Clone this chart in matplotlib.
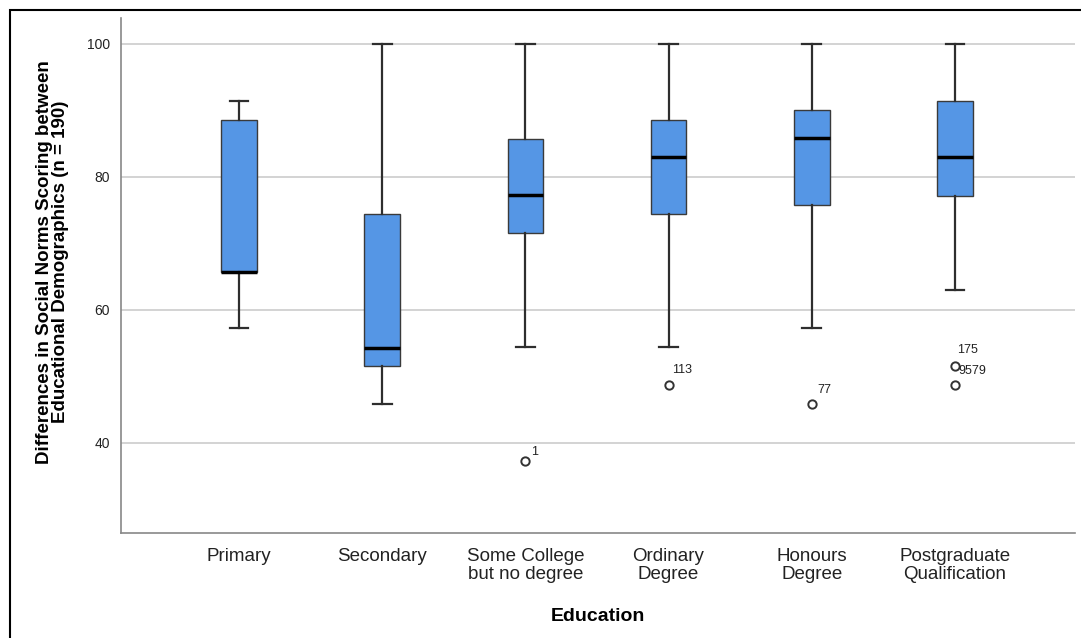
import matplotlib
matplotlib.use("Agg")
import matplotlib.pyplot as plt
from matplotlib.patches import Rectangle

plt.rcParams['font.family'] = ['Liberation Sans', 'DejaVu Sans']

# values
categories = ["Primary", "Secondary", "Some College\nbut no degree", "Ordinary\nDegree",
              "Honours\nDegree", "Postgraduate\nQualification"]
whis_lo = [57.3, 45.9, 54.4, 54.4, 57.3, 63.0]
q1 = [65.7, 51.6, 71.6, 74.4, 75.8, 77.1]
med = [65.7, 54.3, 77.3, 83.0, 85.9, 83.0]
q3 = [88.6, 74.4, 85.7, 88.6, 90.1, 91.4]
whis_hi = [91.4, 100.0, 100.0, 100.0, 100.0, 100.0]
fliers = [[], [], [37.3], [48.7], [45.9], [51.6, 48.7]]
flier_labels = [[], [], ["1"], ["113"], ["77"], ["175", "9579"]]
label_offsets = [[], [], [(6, 3)], [(4, 9)], [(6, 8)], [(2, 10), (4, 8)]]

fig = plt.figure(figsize=(10.81, 6.38), dpi=100)
ax = fig.add_axes([0.112, 0.165, 0.8825, 0.807])

stats = []
for i, c in enumerate(categories):
    stats.append(dict(label=c, whislo=whis_lo[i], q1=q1[i], med=med[i],
                      q3=q3[i], whishi=whis_hi[i], fliers=fliers[i]))

ax.bxp(stats, positions=range(len(categories)), widths=0.25, patch_artist=True,
       showfliers=True,
       boxprops=dict(facecolor='#5596e5', edgecolor='#3a3a3a', linewidth=1.0),
       medianprops=dict(color='black', linewidth=2.5),
       whiskerprops=dict(color='#2e2e2e', linewidth=1.6),
       capprops=dict(color='#2e2e2e', linewidth=1.6),
       capwidths=0.13,
       flierprops=dict(marker='o', markerfacecolor='none', markeredgecolor='#333333',
                       markersize=6, markeredgewidth=1.4))

for i in range(len(categories)):
    for v, lab, off in zip(fliers[i], flier_labels[i], label_offsets[i]):
        ax.annotate(lab, (i, v), xytext=off, textcoords='offset pixels',
                    ha='left', va='bottom', fontsize=9, color='#222222')

ax.set_xlim(-0.825, 5.84)
ax.set_ylim(26.5, 103.9)
ax.set_yticks([40, 60, 80, 100])
ax.yaxis.grid(True, color='#cccccc', linewidth=1.2)
ax.set_axisbelow(True)

for s in ['top', 'right']:
    ax.spines[s].set_visible(False)
for s in ['left', 'bottom']:
    ax.spines[s].set_color('#888888')
    ax.spines[s].set_linewidth(1.2)

ax.tick_params(axis='x', length=0, labelsize=13.5, pad=11, labelcolor='#222222')
ax.tick_params(axis='y', length=0, labelsize=10, pad=8, labelcolor='#222222')
ax.set_xticklabels(categories, linespacing=1.1)

ax.set_xlabel("Education", fontsize=14, fontweight='bold', labelpad=18)
ax.set_ylabel("Differences in Social Norms Scoring between\nEducational Demographics (n = 190)",
              fontsize=13.5, fontweight='bold', linespacing=0.88)
ax.yaxis.set_label_coords(-0.055, 0.526)

# outer frame from the screenshot
fig.patches.append(Rectangle((10 / 1081, -0.1), 1.2, (628 / 638) + 0.1,
                             transform=fig.transFigure, fill=False,
                             edgecolor='black', linewidth=1.5))

fig.savefig("out.png", dpi=100)
